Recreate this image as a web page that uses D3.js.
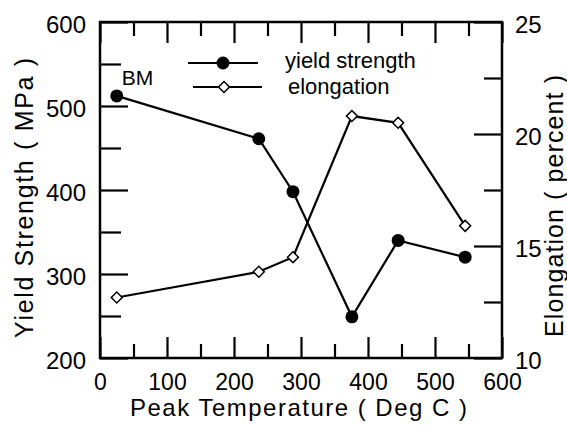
<!DOCTYPE html>
<html>
<head>
<meta charset="utf-8">
<script src="https://cdn.jsdelivr.net/npm/d3@7"></script>
<style>
  body { margin: 0; background: #fff; }
  svg { font-family: "Liberation Sans", Arial, sans-serif; }
  .axis path, .axis line { stroke: #000; }
  .axis text { fill: #000; }
</style>
</head>
<body>
<svg id="chart" width="567" height="426"></svg>
<script>
// data
var temps = [25, 237, 288, 376, 445, 545];
var yieldStrength = [512, 461, 398, 249, 340, 320];
var elongation = [12.7, 13.85, 14.5, 20.8, 20.5, 15.9];
var xTicks = [0, 100, 200, 300, 400, 500, 600];
var yTicks = [200, 300, 400, 500, 600];
var y2Ticks = [10, 15, 20, 25];

var svg = d3.select("#chart");
var margin = {top: 22, right: 65, bottom: 68, left: 100},
    width = 567 - margin.left - margin.right,
    height = 426 - margin.top - margin.bottom;

var g = svg.append("g")
  .attr("transform", "translate(" + margin.left + "," + margin.top + ")");

var x = d3.scaleLinear().domain([0, 600]).range([0, width]);
var y = d3.scaleLinear().domain([200, 600]).range([height, 0]);
var y2 = d3.scaleLinear().domain([10, 25]).range([height, 0]);

function minorOf(ticks, step) {
  var out = [];
  for (var i = 0; i < ticks.length - 1; i++) out.push(ticks[i] + step);
  return out;
}

function styleAxis(sel, fs) {
  sel.select(".domain").remove();
  sel.selectAll("line").attr("stroke-width", 2.2);
  sel.selectAll("text").attr("font-size", fs);
}

// bottom
g.append("g").attr("class", "axis")
  .attr("transform", "translate(0," + height + ")")
  .call(d3.axisBottom(x).tickValues(minorOf(xTicks, 50)).tickSize(-14).tickFormat(""))
  .call(styleAxis, 23);
g.append("g").attr("class", "axis")
  .attr("transform", "translate(0," + height + ")")
  .call(d3.axisBottom(x).tickValues(xTicks).tickSize(-21).tickPadding(16).tickFormat(d3.format("d")))
  .call(styleAxis, 23);
// top
g.append("g").attr("class", "axis")
  .call(d3.axisTop(x).tickValues(minorOf(xTicks, 50)).tickSize(-14).tickFormat(""))
  .call(styleAxis, 23);
g.append("g").attr("class", "axis")
  .call(d3.axisTop(x).tickValues(xTicks).tickSize(-21).tickFormat(""))
  .call(styleAxis, 23);
// left
g.append("g").attr("class", "axis")
  .call(d3.axisLeft(y).tickValues(minorOf(yTicks, 50)).tickSize(-21).tickFormat(""))
  .call(styleAxis, 23);
g.append("g").attr("class", "axis")
  .call(d3.axisLeft(y).tickValues(yTicks).tickSize(-28).tickPadding(14).tickFormat(d3.format("d")))
  .call(styleAxis, 24)
  .selectAll("text").attr("dy", "0.42em");
// right
g.append("g").attr("class", "axis")
  .attr("transform", "translate(" + width + ",0)")
  .call(d3.axisRight(y2).tickValues(minorOf(y2Ticks, 2.5)).tickSize(-18).tickFormat(""))
  .call(styleAxis, 23);
g.append("g").attr("class", "axis")
  .attr("transform", "translate(" + width + ",0)")
  .call(d3.axisRight(y2).tickValues(y2Ticks).tickSize(-28).tickPadding(13).tickFormat(d3.format("d")))
  .call(styleAxis, 24)
  .selectAll("text").attr("dy", "0.42em");

// frame
g.append("rect")
  .attr("width", width).attr("height", height)
  .attr("fill", "none").attr("stroke", "#000").attr("stroke-width", 2.5);

var ysData = temps.map(function(t, i) { return {x: t, v: yieldStrength[i]}; });
var elData = temps.map(function(t, i) { return {x: t, v: elongation[i]}; });

var diamond = d3.symbol().type(d3.symbolSquare).size(60);

g.append("path")
  .datum(ysData)
  .attr("fill", "none").attr("stroke", "#000").attr("stroke-width", 2.2)
  .attr("d", d3.line().x(function(d) { return x(d.x); }).y(function(d) { return y(d.v); }));
g.append("path")
  .datum(elData)
  .attr("fill", "none").attr("stroke", "#000").attr("stroke-width", 2.2)
  .attr("d", d3.line().x(function(d) { return x(d.x); }).y(function(d) { return y2(d.v); }));

g.selectAll(".ys").data(ysData).enter().append("circle")
  .attr("cx", function(d) { return x(d.x); })
  .attr("cy", function(d) { return y(d.v); })
  .attr("r", 6.5).attr("fill", "#000");
g.selectAll(".el").data(elData).enter().append("path")
  .attr("d", diamond)
  .attr("transform", function(d) { return "translate(" + x(d.x) + "," + y2(d.v) + ") rotate(45)"; })
  .attr("fill", "#fff").attr("stroke", "#000").attr("stroke-width", 1.5);

// BM label
g.append("text")
  .attr("x", x(25) + 5).attr("y", y(yieldStrength[0]) - 11)
  .attr("font-size", 21).text("BM");

// legend
var lg = svg.append("g");
lg.append("line").attr("x1", 188).attr("x2", 258).attr("y1", 63).attr("y2", 63)
  .attr("stroke", "#000").attr("stroke-width", 2.2);
lg.append("circle").attr("cx", 223).attr("cy", 63).attr("r", 6.5).attr("fill", "#000");
lg.append("text").attr("x", 285).attr("y", 68).attr("font-size", 22).text("yield strength");
lg.append("line").attr("x1", 193).attr("x2", 262).attr("y1", 87).attr("y2", 87)
  .attr("stroke", "#000").attr("stroke-width", 2.2);
lg.append("path").attr("d", diamond)
  .attr("transform", "translate(224,87) rotate(45)")
  .attr("fill", "#fff").attr("stroke", "#000").attr("stroke-width", 1.5);
lg.append("text").attr("x", 288).attr("y", 94).attr("font-size", 22).text("elongation");

// axis titles
svg.append("text")
  .attr("x", 298.5).attr("y", 416).attr("text-anchor", "middle")
  .attr("font-size", 24).attr("textLength", 337).attr("lengthAdjust", "spacing")
  .text("Peak Temperature ( Deg C )");
svg.append("text")
  .attr("transform", "translate(33,198) rotate(-90)").attr("text-anchor", "middle")
  .attr("font-size", 25).attr("textLength", 280).attr("lengthAdjust", "spacing")
  .text("Yield Strength ( MPa )");
svg.append("text")
  .attr("transform", "translate(563,206) rotate(-90)").attr("text-anchor", "middle")
  .attr("font-size", 25).attr("textLength", 262).attr("lengthAdjust", "spacing")
  .text("Elongation ( percent )");
</script>
</body>
</html>
